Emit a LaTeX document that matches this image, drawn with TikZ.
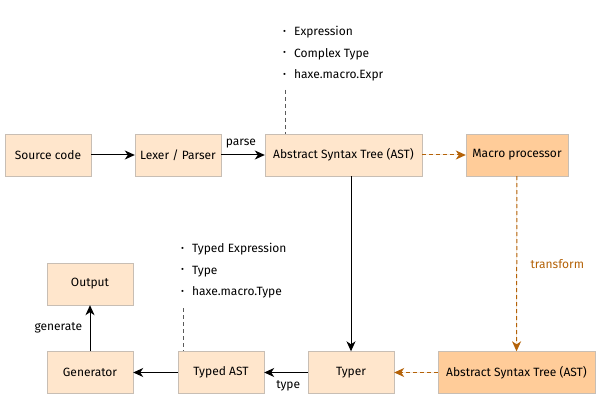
\documentclass[tikz,border=0pt]{standalone}
\usepackage{fontspec}
\setmainfont{Fira Sans}
\usetikzlibrary{positioning, arrows.meta}
\definecolor{boxfill}{HTML}{FFE6CC}
\definecolor{macrofill}{HTML}{FFCC99}
\definecolor{boxline}{RGB}{200, 190, 180}
\definecolor{macroline}{RGB}{180, 98, 8}
\definecolor{noteline}{RGB}{90, 90, 90}
\tikzset{
    stage/.style={rectangle, draw=boxline, fill=boxfill, minimum height=42pt, inner sep=2pt, font=\fontsize{12}{14}\selectfont},
    macrostage/.style={stage, fill=macrofill},
    flow/.style={-{Stealth[length=10pt, width=9pt, inset=3pt]}, line width=1pt},
    macroflow/.style={flow, draw=macroline, dashed, dash pattern=on 4pt off 3pt, fill=macroline},
    notelist/.style={align=left, anchor=north west, inner sep=0pt, font=\fontsize{12}{21.5}\selectfont},
    notelink/.style={draw=noteline, dash pattern=on 4pt off 3pt},
    lbl/.style={font=\fontsize{12}{14}\selectfont}
}
\newcommand{\bul}{\raisebox{1.5pt}{\fontsize{9}{9}\selectfont\textbullet}\hspace{8pt}}

\begin{document}
\begin{tikzpicture}[x=1pt, y=-1pt]
    \useasboundingbox (0,0) rectangle (600,406);
    % front end
    \node[stage, minimum width=86pt] (source) at (48,155) {Source code};
    \node[stage, minimum width=86pt] (lexer) at (178,155) {Lexer / Parser};
    \node[stage, minimum width=157pt] (ast) at (343.5,155) {Abstract Syntax Tree (AST)};
    \node[macrostage, minimum width=102pt] (macro) at (517,155) {Macro processor};
    % back end
    \node[macrostage, minimum width=157pt] (ast2) at (516.5,372.5) {Abstract Syntax Tree (AST)};
    \node[stage, minimum width=86pt] (typer) at (351,372.5) {Typer};
    \node[stage, minimum width=86pt] (typed) at (221,372.5) {Typed AST};
    \node[stage, minimum width=86pt] (gen) at (90,372.5) {Generator};
    \node[stage, minimum width=86pt] (output) at (90,284) {Output};

    % notes
    \node[notelist] (astnote) at (283,26) {\bul Expression\\ \bul Complex Type\\ \bul haxe.macro.Expr};
    \node[notelist] (typednote) at (181,243) {\bul Typed Expression\\ \bul Type\\ \bul haxe.macro.Type};
    \coordinate (astnoteend) at (285,90);
    \coordinate (typednoteend) at (183,308);
    \draw[notelink] (astnoteend) -- (astnoteend |- ast.north);
    \draw[notelink] (typednoteend) -- (typednoteend |- typed.north);

    % connectors
    \draw[flow] (source) -- (lexer);
    \draw[flow] (lexer) -- node[lbl, above=3pt, pos=0.45] {parse} (ast);
    \draw[macroflow] (ast) -- (macro);
    \draw[macroflow] (macro) -- node[lbl, text=macroline, right=10pt, pos=0.5] {transform} (ast2);
    \draw[flow] (ast.south -| typer) -- (typer);
    \draw[macroflow] (ast2) -- (typer);
    \draw[flow] (typer) -- node[lbl, below=4pt, pos=0.45] {type} (typed);
    \draw[flow] (typed) -- (gen);
    \draw[flow] (gen) -- node[lbl, left=4pt] {generate} (output);
\end{tikzpicture}
\end{document}
